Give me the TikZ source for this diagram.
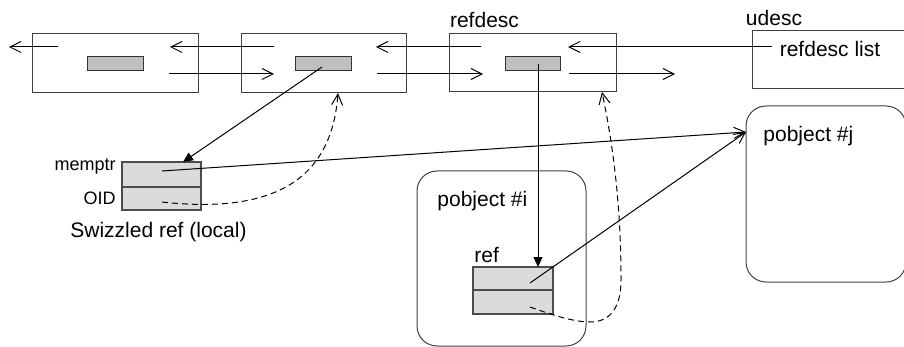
\documentclass[tikz,border=0pt]{standalone}
\usepackage{fontspec}
\setmainfont{Liberation Sans}
\usetikzlibrary{arrows.meta}
\begin{document}
\begin{tikzpicture}[x=0.5pt,y=-0.5pt,
  frame/.style={draw=black!75,line width=0.5pt,inner sep=0pt},
  slot/.style={draw=black!80,fill=black!25,line width=0.5pt,inner sep=0pt,
    minimum width=28pt,minimum height=7pt},
  cell/.style={draw=black!70,fill=black!14,line width=0.75pt,inner sep=0pt,
    minimum width=40pt},
  obj/.style={draw=black!75,line width=0.5pt,rounded corners=10pt,inner sep=0pt},
  lbl/.style={inner sep=0pt,font=\fontsize{10.5pt}{12pt}\selectfont},
  smalllbl/.style={inner sep=0pt,font=\fontsize{9pt}{10pt}\selectfont},
  link/.style={line width=0.5pt,-{Straight Barb[length=5.5pt,width=5.5pt]}},
  ptr/.style={line width=0.5pt,-{Triangle[length=5pt,width=4.5pt]}},
  back/.style={link,dash pattern=on 3pt off 2pt},
]
\useasboundingbox (0,0) rectangle (904,347);

% descriptor chain
\node[frame,minimum width=83pt,minimum height=29.5pt] (desc1) at (115,63.5) {};
\node[slot] (slot1) at (115,64) {};
\node[frame,minimum width=82.5pt,minimum height=29.5pt] (desc2) at (323.5,63.5) {};
\node[slot] (slot2) at (323,64) {};
\node[frame,minimum width=83.5pt,minimum height=29pt] (desc3) at (532.5,63) {};
\node[slot,minimum width=27.5pt] (slot3) at (532.5,64) {};
\node[frame,minimum width=80pt,minimum height=29pt] (udesc) at (832,60) {};

% persistent objects
\node[obj,minimum width=84.5pt,minimum height=87.5pt] (pobji) at (501.5,258.5) {};
\node[obj,minimum width=80pt,minimum height=88pt] (pobjj) at (826,194) {};

% swizzled local reference
\node[cell,minimum width=39.5pt,minimum height=12.5pt] (memptr) at (161.5,174.5) {};
\node[cell,minimum width=39.5pt,minimum height=11.5pt] (oid) at (161.5,198.5) {};

% reference inside pobject #i
\node[cell,minimum height=11.5pt] (refa) at (513,278.5) {};
\node[cell,minimum height=12pt] (refb) at (513,302) {};

% labels
\node[lbl] (t-refdesc) at (484.5,20) {refdesc};
\node[lbl] (t-udesc) at (774,18) {udesc};
\node[lbl] (t-list) at (830,48.5) {refdesc list};
\node[lbl,anchor=base west] (t-pj) at (763,142) {pobject \#j};
\node[lbl,anchor=base west] (t-pi) at (437,206) {pobject \#i};
\node[lbl,anchor=base west] (t-ref) at (474,263) {ref};
\node[smalllbl,anchor=base east] (t-mem) at (116,171) {memptr};
\node[smalllbl,anchor=base east] (t-oid) at (116,205) {OID};
\node[lbl,anchor=base west] (t-sw) at (70,237) {Swizzled ref (local)};

% end points of the list links
\coordinate (l1s) at (58,47);   \coordinate (l1e) at (9,47);
\coordinate (l2s) at (274,47);  \coordinate (l2e) at (170,47);
\coordinate (r1s) at (169,74);  \coordinate (r1e) at (274,74);
\coordinate (l3s) at (481,47);  \coordinate (l3e) at (376,47);
\coordinate (r2s) at (377,74);  \coordinate (r2e) at (483,74);
\coordinate (l4s) at (772,47);  \coordinate (l4e) at (568,47);
\coordinate (r3s) at (569,74);  \coordinate (r3e) at (675,74);

\draw[link] (l1s) -- (l1e);
\draw[link] (l2s) -- (l2e);
\draw[link] (r1s) -- (r1e);
\draw[link] (l3s) -- (l3e);
\draw[link] (r2s) -- (r2e);
\draw[link] (l4s) -- (l4e);
\draw[link] (r3s) -- (r3e);

% pointers
\coordinate (s2) at (322,67);
\coordinate (memtop) at (183,162);
\coordinate (s3) at (538,64);
\coordinate (reftop) at (538,267);
\coordinate (memin) at (162,171);
\coordinate (refin) at (530,283);
\coordinate (jin) at (746,132);
\draw[ptr] (s2) -- (memtop);
\draw[ptr] (s3) -- (reftop);
\draw[link] (memin) -- (jin);
\draw[link] (refin) -- (jin);

% back references through the OID
\coordinate (oidin) at (162,202);
\coordinate (d2bot) at (338,93);
\coordinate (refoid) at (530,307);
\coordinate (d3bot) at (602,92);
\draw[back] (oidin) .. controls (280,215) and (332,175) .. (d2bot);
\draw[back] (refoid) .. controls (555,316) and (575,322) .. (590,322)
  .. controls (612,322) and (621,305) .. (621,280)
  .. controls (621,200) and (612,140) .. (d3bot);
\end{tikzpicture}
\end{document}
